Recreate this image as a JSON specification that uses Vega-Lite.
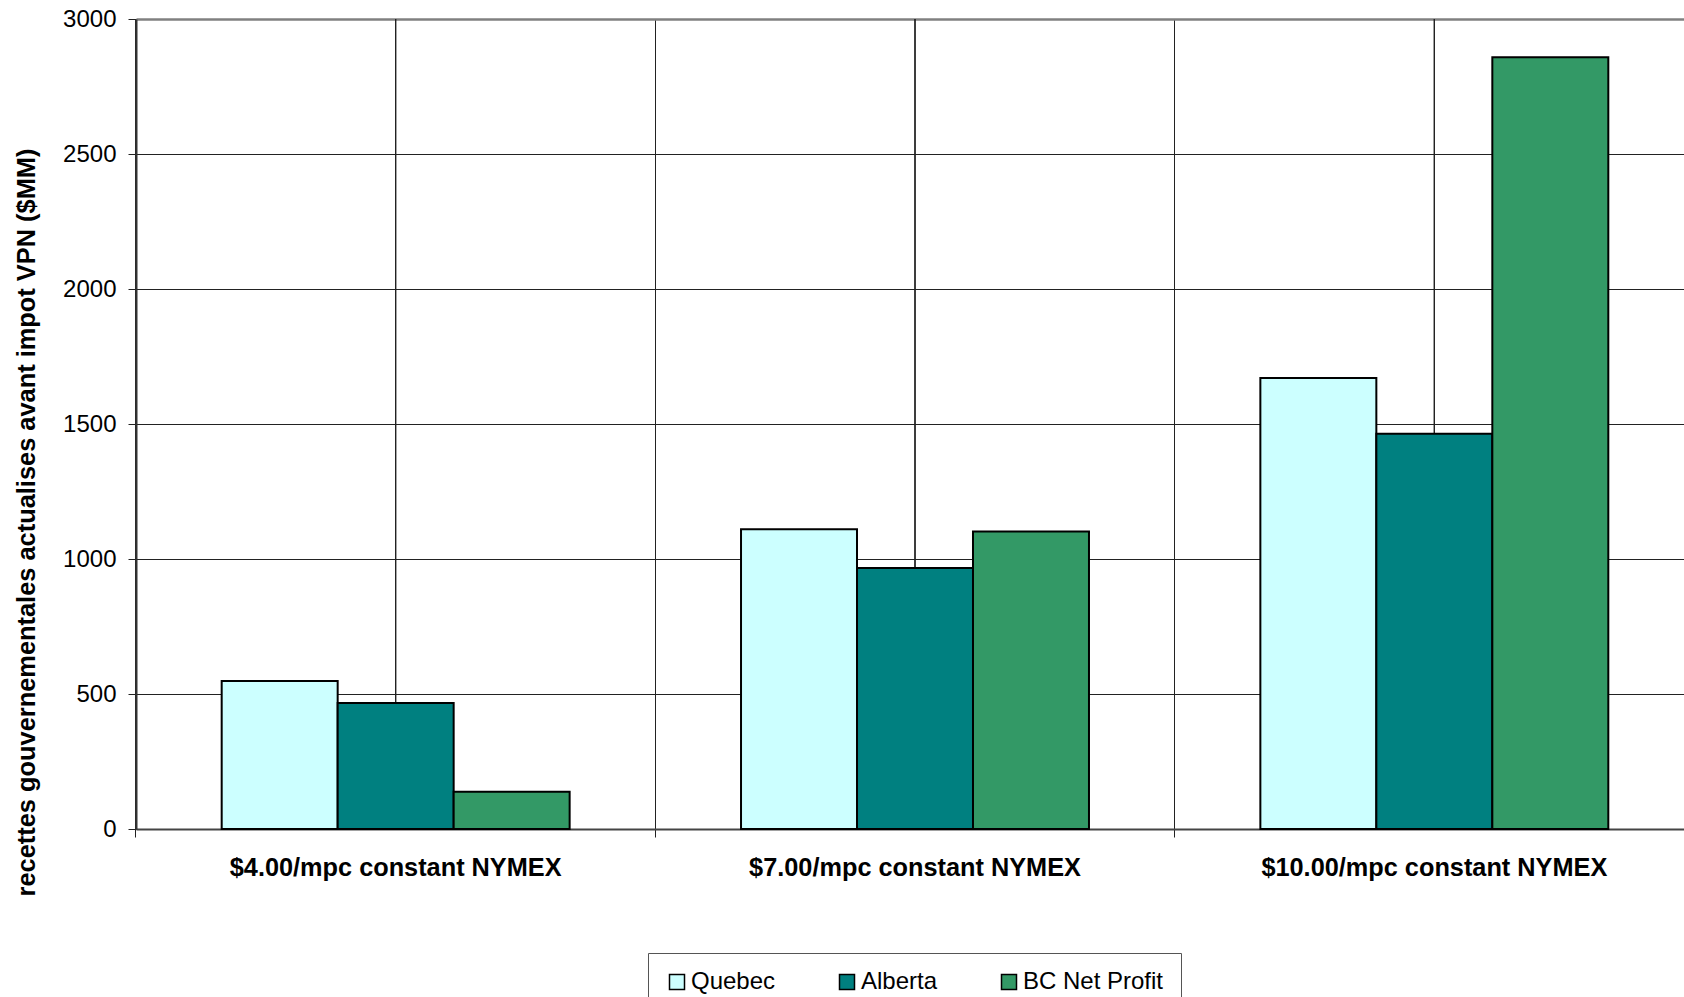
{
  "$schema": "https://vega.github.io/schema/vega-lite/v6.json",
  "autosize": "none",
  "width": 1548,
  "height": 810,
  "padding": {"left": 136, "top": 19, "right": 0, "bottom": 168},
  "background": "white",
  "config": {"view": {"stroke": null}, "font": "Liberation Sans"},
  "data": {
    "values": [
      {"category": "$4.00/mpc constant NYMEX", "series": "Quebec", "value": 548},
      {"category": "$4.00/mpc constant NYMEX", "series": "Alberta", "value": 467},
      {"category": "$4.00/mpc constant NYMEX", "series": "BC Net Profit", "value": 138},
      {"category": "$7.00/mpc constant NYMEX", "series": "Quebec", "value": 1110},
      {"category": "$7.00/mpc constant NYMEX", "series": "Alberta", "value": 967},
      {"category": "$7.00/mpc constant NYMEX", "series": "BC Net Profit", "value": 1102},
      {"category": "$10.00/mpc constant NYMEX", "series": "Quebec", "value": 1670},
      {"category": "$10.00/mpc constant NYMEX", "series": "Alberta", "value": 1464},
      {"category": "$10.00/mpc constant NYMEX", "series": "BC Net Profit", "value": 2858}
    ]
  },
  "encoding": {
    "x": {
      "field": "category",
      "type": "nominal",
      "sort": ["$4.00/mpc constant NYMEX", "$7.00/mpc constant NYMEX", "$10.00/mpc constant NYMEX"],
      "scale": {"type": "band", "paddingInner": 0.33, "paddingOuter": 0.165, "range": [0, 1558]},
      "axis": {
        "title": null,
        "bandPosition": -0.2463,
        "grid": true,
        "gridColor": "#222222",
        "gridWidth": 1,
        "tickColor": "#222222",
        "tickSize": 8,
        "labelFontSize": 25.3,
        "labelFontWeight": "bold",
        "labelColor": "black",
        "labelPadding": 18,
        "labelAngle": 0,
        "labelLimit": 600,
        "domainColor": "#444444",
        "domainWidth": 2
      }
    }
  },
  "layer": [
    {
      "mark": {"type": "rule", "color": "#222222", "strokeWidth": 1},
      "encoding": {}
    },
    {
      "mark": {"type": "bar", "stroke": "black", "strokeWidth": 2},
      "encoding": {
        "xOffset": {
          "field": "series",
          "type": "nominal",
          "sort": ["Quebec", "Alberta", "BC Net Profit"],
          "scale": {"paddingInner": 0, "paddingOuter": 0}
        },
        "y": {
          "field": "value",
          "type": "quantitative",
          "scale": {"domain": [0, 3000], "nice": false},
          "axis": {
            "title": "recettes gouvernementales actualises avant impot VPN ($MM)",
            "values": [0, 500, 1000, 1500, 2000, 2500, 3000],
            "format": "d",
            "grid": true,
            "gridColor": {"condition": {"test": "datum.value === 3000", "value": "#808080"}, "value": "#222222"},
            "gridWidth": {"condition": {"test": "datum.value === 3000", "value": 2.5}, "value": 1},
            "tickSize": 8,
            "tickColor": "#222222",
            "labelFontSize": 24,
            "labelPadding": 12,
            "labelColor": "black",
            "domainColor": "#333333",
            "domainWidth": 2,
            "titleFontSize": 25.4,
            "titleFontWeight": "bold",
            "titleColor": "black",
            "titleX": -110,
            "titleY": 503,
            "titleAngle": 270,
            "titleAlign": "center",
            "titleBaseline": "middle"
          }
        },
        "color": {
          "field": "series",
          "type": "nominal",
          "scale": {"domain": ["Quebec", "Alberta", "BC Net Profit"], "range": ["#CCFFFF", "#008080", "#339966"]},
          "legend": {
            "title": null,
            "orient": "none",
            "legendX": 512,
            "legendY": 934,
            "direction": "horizontal",
            "columns": 3,
            "strokeColor": "#555555",
            "fillColor": "white",
            "padding": 17,
            "symbolType": "square",
            "symbolSize": 225,
            "symbolStrokeColor": "black",
            "symbolStrokeWidth": 1.5,
            "labelFontSize": 24,
            "labelColor": "black",
            "labelOffset": 2,
            "columnPadding": 59
          }
        }
      }
    }
  ]
}
